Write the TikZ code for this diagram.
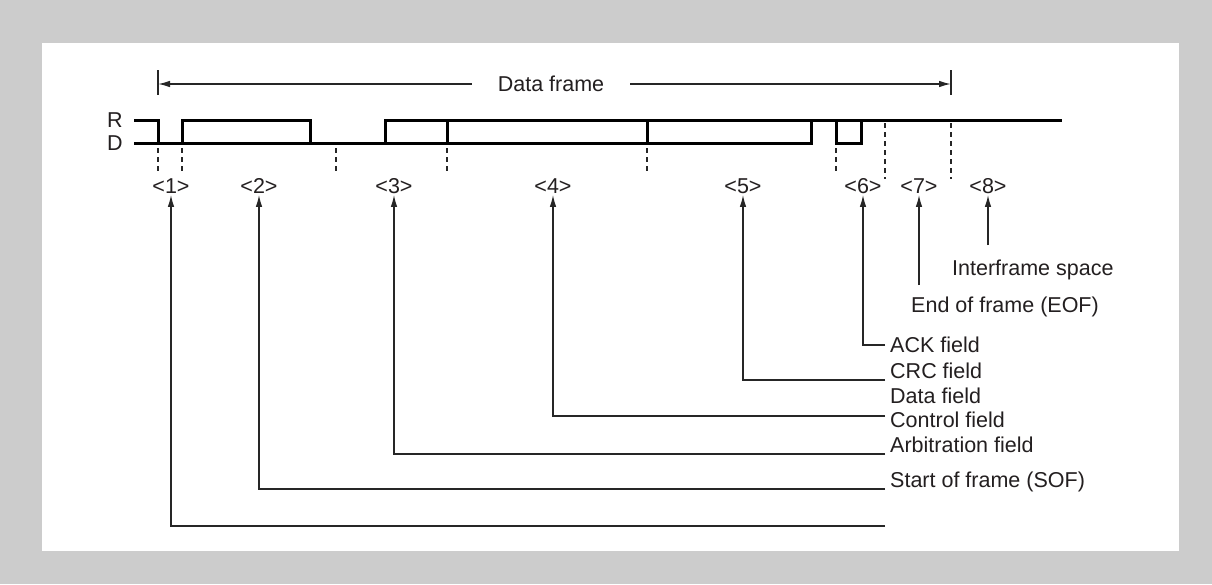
\documentclass[tikz,border=0pt]{standalone}
\usepackage{fontspec}
\setmainfont{Liberation Sans}
\usetikzlibrary{arrows.meta}
\definecolor{txt}{HTML}{231F20}
\definecolor{bg}{HTML}{CCCCCC}
\begin{document}
\begin{tikzpicture}[x=1pt,y=-1pt,
  every node/.style={font=\fontsize{21.5}{25}\selectfont, text=txt},
  lbl/.style={inner xsep=1pt, inner ysep=1pt, text height=15.4pt, text depth=0pt},
  fld/.style={anchor=west, inner xsep=5pt, inner ysep=1pt, text height=15.4pt, text depth=0pt},
  wave/.style={line width=3pt, black, line cap=rect, line join=miter},
  conn/.style={line width=1.3pt, black!85},
  tick/.style={line width=1.5pt, black!85, dash pattern=on 5pt off 4pt},
  tip/.style={-{Latex[length=12pt,width=6.5pt]}}
]
\useasboundingbox (0,0) rectangle (1212,584);
\fill[bg] (0,0) rectangle (1212,584);
\fill[white] (42,43) rectangle (1179,551);

% Data frame span
\node[lbl, inner xsep=26pt] (df) at (551,84) {Data frame};
\coordinate (fl) at (158,84);
\coordinate (fr) at (951,84);
\draw[conn] (158,70) -- (158,95);
\draw[conn] (951,70) -- (951,95);
\draw[conn,tip] (df.west) -- (fl);
\draw[conn,tip] (df.east) -- (fr);

% R / D labels
\node[lbl] (R) at (115,120) {R};
\node[lbl] (D) at (115,143) {D};

% waveform
\draw[wave] (135,120) -- (158,120) -- (158,143);
\draw[wave] (135,143) -- (811,143);
\draw[wave] (182,143) -- (182,120) -- (310,120) -- (310,143);
\draw[wave] (385,143) -- (385,120) -- (1060,120);
\draw[wave] (447,120) -- (447,143);
\draw[wave] (647,120) -- (647,143);
\draw[wave] (811,120) -- (811,143);
\draw[wave] (836,120) -- (836,143) -- (861,143) -- (861,120);

% dashed boundaries
\foreach \x in {158,182,336,447,647,836}
  \draw[tick] (\x,148) -- (\x,174);
\foreach \x in {885,951}
  \draw[tick] (\x,123) -- (\x,179);

% field numbers
\node[lbl] (l1) at (171,186) {\textless 1\textgreater};
\node[lbl] (l2) at (259,186) {\textless 2\textgreater};
\node[lbl] (l3) at (394,186) {\textless 3\textgreater};
\node[lbl] (l4) at (553,186) {\textless 4\textgreater};
\node[lbl] (l5) at (743,186) {\textless 5\textgreater};
\node[lbl] (l6) at (863,186) {\textless 6\textgreater};
\node[lbl] (l7) at (919,186) {\textless 7\textgreater};
\node[lbl] (l8) at (988,186) {\textless 8\textgreater};

% field names
\node[fld] (ifs) at (947,268) {Interframe space};
\node[fld] (eof) at (906,305) {End of frame (EOF)};
\node[fld] (ack) at (885,345) {ACK field};
\node[fld] (crc) at (885,371) {CRC field};
\node[fld] (dat) at (885,396) {Data field};
\node[fld] (ctl) at (885,420) {Control field};
\node[fld] (arb) at (885,445) {Arbitration field};
\node[fld] (sof) at (885,480) {Start of frame (SOF)};

% connectors
\coordinate (e8) at (988,245);
\coordinate (e7) at (919,285);
\coordinate (e1) at (885,526);
\draw[conn,tip] (e8) -- (e8 |- l8.south);
\draw[conn,tip] (e7) -- (e7 |- l7.south);
\draw[conn,tip] (ack.west) -| (l6.south);
\draw[conn,tip] (crc.south west) -| (l5.south);
\draw[conn,tip] (ctl.west) ++(0,-4) -| (l4.south);
\draw[conn,tip] (arb.south west) -| (l3.south);
\draw[conn,tip] (sof.south west) -| (l2.south);
\draw[conn,tip] (e1) -| (l1.south);
\end{tikzpicture}
\end{document}
